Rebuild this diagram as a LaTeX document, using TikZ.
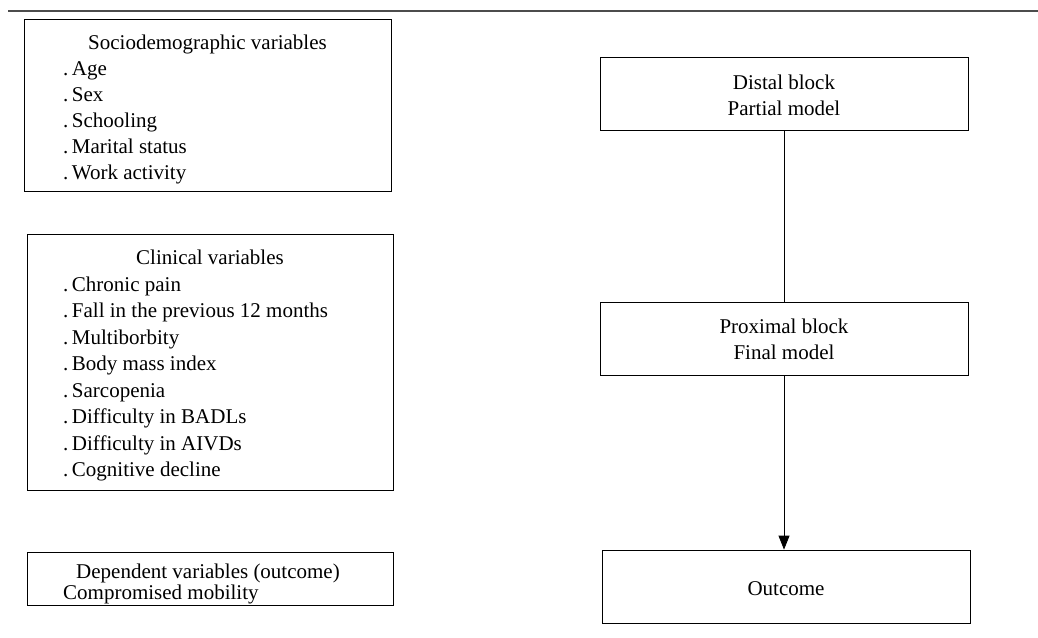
\documentclass[tikz,border=0pt]{standalone}
\usepackage{fontspec}
\setmainfont{Liberation Serif}
\usetikzlibrary{arrows.meta}
\begin{document}
\begin{tikzpicture}[x=1pt,y=-1pt,
  box/.style={draw=black,line width=0.8pt,rectangle,inner sep=0pt},
  txt/.style={font=\fontsize{21}{26}\selectfont,inner sep=0pt,anchor=mid,yshift=-5pt},
  item/.style={font=\fontsize{21}{26}\selectfont,inner sep=0pt,anchor=mid west,yshift=-5pt},
  link/.style={draw=black,line width=0.8pt},
  rule/.style={draw=black!70,line width=1.3pt}]
\useasboundingbox (0,0) rectangle (1038,637);
% top rule
\coordinate (r1) at (8,11);
\coordinate (r2) at (1038,11);
\draw[rule] (r1) -- (r2);
% left boxes
\node[box,minimum width=367pt,minimum height=172pt] (socio) at (207.5,105) {};
\node[txt] (sochead) at (207.5,42) {Sociodemographic variables};
\node[item] (s1) at (63,68) {.\,Age};
\node[item] (s2) at (63,94) {.\,Sex};
\node[item] (s3) at (63,120) {.\,Schooling};
\node[item] (s4) at (63,146) {.\,Marital status};
\node[item] (s5) at (63,172) {.\,Work activity};

\node[box,minimum width=366pt,minimum height=256pt] (clin) at (210,362) {};
\node[txt] (clinhead) at (210,257) {Clinical variables};
\node[item] (c1) at (63,284) {.\,Chronic pain};
\node[item] (c2) at (63,310.5) {.\,Fall in the previous 12 months};
\node[item] (c3) at (63,337) {.\,Multiborbity};
\node[item] (c4) at (63,363.5) {.\,Body mass index};
\node[item] (c5) at (63,390) {.\,Sarcopenia};
\node[item] (c6) at (63,416.5) {.\,Difficulty in BADLs};
\node[item] (c7) at (63,443) {.\,Difficulty in AIVDs};
\node[item] (c8) at (63,469.5) {.\,Cognitive decline};

\node[box,minimum width=366pt,minimum height=53pt] (dep) at (210,578.5) {};
\node[txt] (dephead) at (208,571) {Dependent variables (outcome)};
\node[item] (d1) at (63,592) {Compromised mobility};

% right boxes
\node[box,minimum width=368pt,minimum height=73pt] (distal) at (784,93.5) {};
\node[txt] (dist1) at (784,82) {Distal block};
\node[txt] (dist2) at (784,108) {Partial model};

\node[box,minimum width=368pt,minimum height=73pt] (prox) at (784,338.5) {};
\node[txt] (prox1) at (784,326) {Proximal block};
\node[txt] (prox2) at (784,352) {Final model};

\node[box,minimum width=368pt,minimum height=73pt] (out) at (786,586.5) {};
\node[txt] (outt) at (786,588) {Outcome};

% connectors
\draw[link] (distal.south) -- (prox.north);
\draw[link,-{Triangle[length=14pt,width=11pt]}] (prox.south) -- (prox.south |- out.north);
\end{tikzpicture}
\end{document}
